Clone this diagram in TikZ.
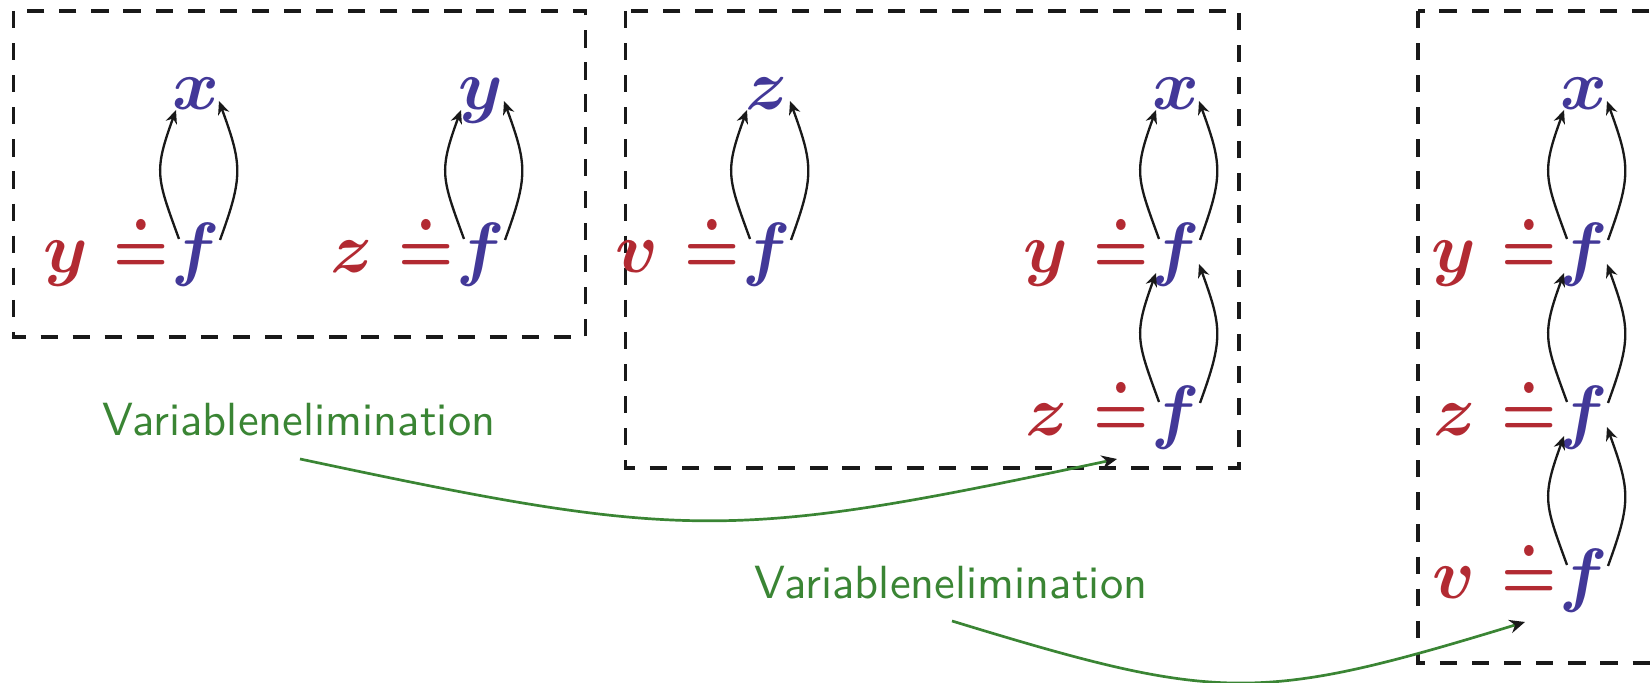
\documentclass[tikz,border=0pt]{standalone}
\usepackage{bm}
\usepackage{graphicx}
\usetikzlibrary{arrows.meta}
\definecolor{vred}{RGB}{178,42,50}
\definecolor{vblue}{RGB}{66,56,152}
\definecolor{vgreen}{RGB}{58,133,52}
\newcommand\bdoteq{\mkern1.5mu\mathrel{\scalebox{0.87}[1]{$\bm{\doteq}$}}}
\tikzset{
  mathfont/.style={font=\fontsize{10}{12}\selectfont, inner sep=0pt, scale=1.53},
  fn/.style={mathfont, text=vblue, anchor=base},
  lhs/.style={mathfont, text=vred, anchor=base east},
  dbox/.style={draw=black!90, line width=0.78pt, dash pattern=on 3.7pt off 3.2pt},
  dep/.style={draw=black!90, line width=0.5pt, -{Stealth[length=2.9pt,width=2.5pt]}},
  elim/.style={draw=vgreen, line width=0.58pt, -{Stealth[length=3.3pt,width=2.9pt,color=black!90,fill=black!90]}},
  lbl/.style={font=\sffamily\fontsize{10}{12}\selectfont, text=vgreen, anchor=base, inner sep=0pt},
}
\newcommand\deps[2]{%
  \draw[dep] ([shift={(-17,34)}]#1.base) to[out=110,in=250,looseness=1.3] ([shift={(-20,0)}]#2.base);
  \draw[dep] ([shift={(24,33)}]#1.base) to[out=70,in=290,looseness=1.25] ([shift={(23,9)}]#2.base);}
\begin{document}
\begin{tikzpicture}[x=0.215pt,y=0.215pt]
\useasboundingbox (0,0) rectangle (1650,683);
\clip (0,0) rectangle (1650,683);
% boxes
\draw[dbox] (13.5,672) rectangle (585.5,346);
\draw[dbox] (625.5,672) rectangle (1239,215);
\draw[dbox] (1418,672) rectangle (1700,20);
% group A
\node[fn] (tA) at (196,573) {$\bm{x}$};
\node[fn] (fA) at (196,410) {$\bm{f}$};
\node[lhs] (lA) at (fA.base west) {$\bm{y}\bdoteq$};
\deps{fA}{tA}
% group B
\node[fn] (tB) at (481,573) {$\bm{y}$};
\node[fn] (fB) at (481,410) {$\bm{f}$};
\node[lhs] (lB) at (fB.base west) {$\bm{z}\bdoteq$};
\deps{fB}{tB}
% group C
\node[fn] (tC) at (767,573) {$\bm{z}$};
\node[fn] (fC) at (767,410) {$\bm{f}$};
\node[lhs] (lC) at (fC.base west) {$\bm{v}\bdoteq$};
\deps{fC}{tC}
% group D
\node[fn] (tD) at (1176,573) {$\bm{x}$};
\node[fn] (fD1) at (1176,410) {$\bm{f}$};
\node[lhs] (lD1) at (fD1.base west) {$\bm{y}\bdoteq$};
\node[fn] (fD2) at (1176,247) {$\bm{f}$};
\node[lhs] (lD2) at (fD2.base west) {$\bm{z}\bdoteq$};
\deps{fD1}{tD}
\deps{fD2}{fD1}
% group E
\node[fn] (tE) at (1584,573) {$\bm{x}$};
\node[fn] (fE1) at (1584,410) {$\bm{f}$};
\node[lhs] (lE1) at (fE1.base west) {$\bm{y}\bdoteq$};
\node[fn] (fE2) at (1584,247) {$\bm{f}$};
\node[lhs] (lE2) at (fE2.base west) {$\bm{z}\bdoteq$};
\node[fn] (fE3) at (1584,84) {$\bm{f}$};
\node[lhs] (lE3) at (fE3.base west) {$\bm{v}\bdoteq$};
\deps{fE1}{tE}
\deps{fE2}{fE1}
\deps{fE3}{fE2}
% elimination arrows
\node[lbl] (L1) at (299,247) {Variablenelimination};
\coordinate (E1) at ([shift={(-59,-23)}]fD2.base);
\draw[elim] ([shift={(1,-23)}]L1.base) to[out=-12,in=192,looseness=1.24] (E1);
\node[lbl] (L2) at (951,84) {Variablenelimination};
\coordinate (E2) at ([shift={(-59,-23)}]fE3.base);
\draw[elim] ([shift={(1,-22)}]L2.base) to[out=-17,in=197,looseness=1.25] (E2);
\end{tikzpicture}
\end{document}
